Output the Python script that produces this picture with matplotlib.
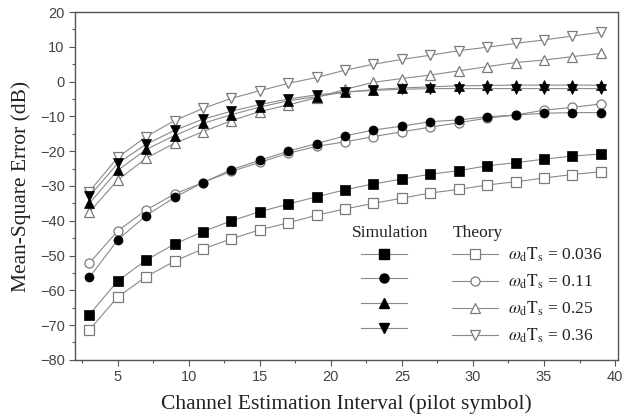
import matplotlib
matplotlib.use("Agg")
import matplotlib.pyplot as plt
from matplotlib.lines import Line2D

plt.rcParams['mathtext.fontset'] = 'stix'

x = [3, 5, 7, 9, 11, 13, 15, 17, 19, 21, 23, 25, 27, 29, 31, 33, 35, 37, 39]

sim_036 = [-67, -57.3, -51.3, -46.7, -43.1, -40, -37.4, -35.2, -33.1, -31.1, -29.4, -28, -26.6, -25.6, -24.2, -23.3, -22.3, -21.4, -20.8]
th_036 = [-71.4, -61.9, -56.1, -51.6, -48.1, -45.2, -42.6, -40.6, -38.4, -36.6, -35, -33.5, -32, -31, -29.7, -28.8, -27.7, -26.7, -25.9]

sim_011 = [-56.3, -45.5, -38.5, -33.3, -29, -25.3, -22.6, -20, -17.8, -15.6, -13.9, -12.8, -11.5, -11, -10.1, -9.6, -9.1, -8.9, -8.9]
th_011 = [-52.2, -42.9, -36.9, -32.3, -29, -25.8, -23.2, -20.6, -18.6, -17.3, -15.8, -14.4, -13.1, -11.8, -10.5, -9.6, -8.2, -7.4, -6.4]

sim_025 = [-35, -25.5, -19.5, -15.5, -12, -9.5, -7.3, -5.5, -4.3, -3, -2.3, -1.8, -1.5, -1.2, -1.1, -1.0, -1.0, -1.0, -1.0]
th_025 = [-37.5, -28.3, -22, -17.7, -14.4, -11.2, -8.6, -6.7, -4.6, -2.2, -0.2, 0.9, 1.9, 3.1, 4.3, 5.5, 6.2, 7.2, 8.1]

sim_036b = [-33, -23.5, -18, -14, -10.8, -8.5, -6.6, -5, -3.8, -3, -2.5, -2.2, -2.0, -2.0, -2.0, -2.0, -2.0, -2.0, -2.0]
th_036b = [-31.6, -21.8, -15.8, -11.2, -7.7, -4.8, -2.6, -0.5, 1.2, 3.3, 5.0, 6.4, 7.6, 8.9, 9.9, 11.0, 12.0, 13.1, 14.2]

labels = [r'$\omega_{\rm d}{\rm T}_{\rm s}$ = 0.036',
          r'$\omega_{\rm d}{\rm T}_{\rm s}$ = 0.11',
          r'$\omega_{\rm d}{\rm T}_{\rm s}$ = 0.25',
          r'$\omega_{\rm d}{\rm T}_{\rm s}$ = 0.36']
markers = ['s', 'o', '^', 'v']
sims = [sim_036, sim_011, sim_025, sim_036b]
ths = [th_036, th_011, th_025, th_036b]

xticks = [5, 10, 15, 20, 25, 30, 35, 40]
yticks = [-80, -70, -60, -50, -40, -30, -20, -10, 0, 10, 20]

fig = plt.figure(figsize=(6.26, 4.17), dpi=100)
ax = fig.add_axes([0.12, 0.137, 0.867, 0.834])

line_col = '#8a8a8a'
th_edge = '#7a7a7a'
ms = 6.5

sim_handles = []
th_handles = []
for m, s, t in zip(markers, sims, ths):
    ax.plot(x, t, color=line_col, lw=0.8, marker=m, ms=ms, mfc='white',
            mec=th_edge, mew=0.9, zorder=2)
for m, s, t in zip(markers, sims, ths):
    ax.plot(x, s, color=line_col, lw=0.8, marker=m, ms=ms, mfc='black',
            mec='black', mew=0.5, zorder=3)
for m in markers:
    sim_handles.append(Line2D([], [], color=line_col, lw=0.8, marker=m, ms=ms,
                              mfc='black', mec='black'))
    th_handles.append(Line2D([], [], color=line_col, lw=0.8, marker=m, ms=ms,
                             mfc='white', mec=th_edge, mew=0.9))

ax.set_xlim(2, 40.2)
ax.set_ylim(-80, 20)
ax.set_xticks(xticks)
ax.set_yticks(yticks)
ax.set_xticks([2.5 + 5 * i for i in range(8)], minor=True)
ax.set_yticks([-75 + 10 * i for i in range(10)], minor=True)
ax.tick_params(axis='both', which='major', direction='out', length=4,
               width=0.8, color='#555555', labelsize=10.5, labelcolor='#444444')
ax.tick_params(axis='both', which='minor', direction='out', length=2,
               width=0.8, color='#555555')
for lab in ax.get_xticklabels() + ax.get_yticklabels():
    lab.set_family('Liberation Sans')
for sp in ax.spines.values():
    sp.set_color('#555555')
    sp.set_linewidth(1.0)

ax.set_xlabel('Channel Estimation Interval (pilot symbol)', family='Liberation Serif',
              fontsize=15.5, color='#222222', labelpad=7)
ax.set_ylabel('Mean-Square Error (dB)', family='Liberation Serif',
              fontsize=15.5, color='#222222', labelpad=6)

handles = sim_handles + th_handles
leg_labels = [''] * 4 + labels
leg = ax.legend(handles, leg_labels, ncol=2, loc='lower right',
                bbox_to_anchor=(0.985, 0.022), frameon=False,
                prop={'family': 'Liberation Serif', 'size': 12.5},
                handlelength=2.65, handletextpad=0.6, columnspacing=2.0,
                labelspacing=0.5, borderaxespad=0.0)
for t in leg.get_texts():
    t.set_color('#222222')

ax.text(0.51, 0.366, 'Simulation', transform=ax.transAxes,
        family='Liberation Serif', fontsize=12.5, color='#222222',
        ha='left', va='center')
ax.text(0.696, 0.366, 'Theory', transform=ax.transAxes,
        family='Liberation Serif', fontsize=12.5, color='#222222',
        ha='left', va='center')

fig.savefig('out.png', dpi=100)
